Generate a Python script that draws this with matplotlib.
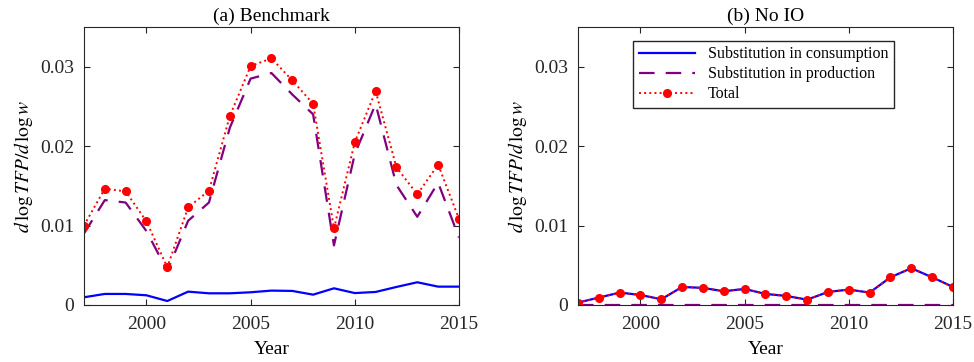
import numpy as np
import matplotlib.pyplot as plt

plt.rcParams['font.family'] = ['Liberation Serif', 'DejaVu Serif']
plt.rcParams['mathtext.fontset'] = 'stix'

years = np.arange(1997, 2016)

# (a) Benchmark
bench_cons = [0.00097, 0.00139, 0.00139, 0.00122, 0.00050, 0.00168, 0.00147,
              0.00147, 0.00160, 0.00181, 0.00177, 0.00130, 0.00210, 0.00150,
              0.00164, 0.00227, 0.00286, 0.00231, 0.00231]
bench_prod = [0.0090, 0.0132, 0.0129, 0.0093, 0.0043, 0.0106, 0.0129, 0.0223,
              0.0285, 0.0292, 0.0265, 0.0240, 0.0075, 0.0190, 0.0253, 0.0151,
              0.0111, 0.0154, 0.0085]
bench_total = [0.0100, 0.01464, 0.0143, 0.01052, 0.00475, 0.01229, 0.01439,
               0.02377, 0.03008, 0.03105, 0.02827, 0.02533, 0.00964, 0.02049,
               0.02693, 0.01733, 0.01393, 0.01767, 0.01086]

# (b) No IO
noio_cons = [0.00030, 0.00093, 0.00156, 0.00126, 0.00072, 0.00227, 0.00215,
             0.00173, 0.00202, 0.00139, 0.00114, 0.00067, 0.00164, 0.00194,
             0.00156, 0.00349, 0.00463, 0.00349, 0.00227]
noio_prod = [0.0] * 19
noio_total = [0.00030, 0.00093, 0.00156, 0.00126, 0.00072, 0.00227, 0.00215,
              0.00173, 0.00202, 0.00139, 0.00114, 0.00067, 0.00164, 0.00194,
              0.00156, 0.00349, 0.00463, 0.00349, 0.00227]

titles = ['(a) Benchmark', '(b) No IO']
panels = [(bench_cons, bench_prod, bench_total),
          (noio_cons, noio_prod, noio_total)]

fig = plt.figure(figsize=(9.74, 3.62), dpi=100)
positions = [[0.0862, 0.1575, 0.385, 0.768], [0.5934, 0.1575, 0.385, 0.768]]

for i, (cons, prod, total) in enumerate(panels):
    ax = fig.add_axes(positions[i])
    ax.plot(years, cons, color='#0000ff', lw=1.6, label='Substitution in consumption')
    ax.plot(years, prod, color='#800080', lw=1.6, dashes=(7, 5),
            label='Substitution in production')
    ax.plot(years, total, color='#ff0000', lw=1.4, ls=':', marker='o',
            ms=5.5, label='Total')
    ax.set_xlim(1997, 2015)
    ax.set_ylim(0, 0.035)
    ax.set_xticks([2000, 2005, 2010, 2015])
    ax.set_yticks([0, 0.01, 0.02, 0.03])
    ax.set_yticklabels(['0', '0.01', '0.02', '0.03'])
    ax.tick_params(direction='in', length=4, top=True, right=True,
                   labelsize=14, colors='#262626', labelcolor='#262626')
    ax.tick_params(axis='x', pad=8)
    ax.tick_params(axis='y', pad=7)
    for sp in ax.spines.values():
        sp.set_color('#262626')
        sp.set_linewidth(0.8)
    ax.set_title(titles[i], fontsize=14, pad=4)
    ax.set_xlabel('Year', fontsize=14, labelpad=6)
    ax.set_ylabel(r'$d\,\log TFP/d\,\log w$', fontsize=14, labelpad=4)
    if i == 1:
        ax.legend(loc='upper center', bbox_to_anchor=(0.495, 0.98), fontsize=11.5,
                  fancybox=False, edgecolor='#262626', framealpha=1,
                  handlelength=3.5, borderpad=0.35, labelspacing=0.25)

fig.savefig('out.png', dpi=100)
